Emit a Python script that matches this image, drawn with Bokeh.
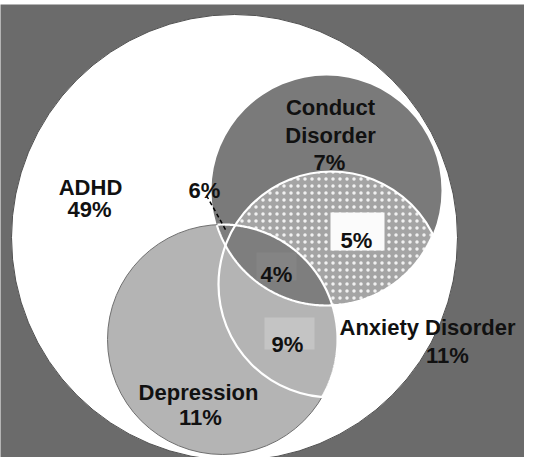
import numpy as np
from bokeh.plotting import figure
from bokeh.models import Range1d, ColumnDataSource
from bokeh.embed import file_html
from bokeh.resources import INLINE
from bokeh.core.properties import value

# ---- data: the four sets (centre x, centre y, radius in picture pixels) ----
set_names = ["ADHD", "Conduct Disorder", "Depression", "Anxiety Disorder"]
set_cx = [242, 334, 230, 339]
set_cy = [245, 198, 347, 292]
set_r = [223, 115, 115, 113]

# ---- labels ----
label_text = ["ADHD", "49%", "Conduct", "Disorder", "7%", "6%", "5%", "4%", "9%",
              "Anxiety Disorder", "11%", "Depression", "11%"]
label_x = [98, 97, 338, 338, 337, 212, 364, 284, 295, 347, 455, 206, 208]
label_y = [195, 217, 115, 143, 170, 198, 248, 282, 352, 335, 363, 400, 425]
label_size = ["22px", "22px", "22px", "22px", "22px", "22px", "22px", "22px", "22px",
              "22px", "22px", "22px", "22px"]
label_align = ["center"] * 9 + ["left"] + ["center"] * 3

# label boxes behind the 5%, 4% and 9% values
box_x = [365, 284, 297]
box_y = [239, 274, 341]
box_w = [54, 40, 50]
box_h = [38, 28, 32]
box_color = ["#fbfbfb", "#848484", "#c4c4c4"]

BG = "#6b6b6b"
C_CONDUCT = "#7a7a7a"
C_DEP = "#b4b4b4"
C_DOT = "#a4a4a4"
C_CORE = "#7e7e7e"


def circle_pts(i, n=720):
    t = np.linspace(0, 2 * np.pi, n, endpoint=False)
    return set_cx[i] + set_r[i] * np.cos(t), set_cy[i] + set_r[i] * np.sin(t)


def inside(i, x, y):
    return (x - set_cx[i]) ** 2 + (y - set_cy[i]) ** 2 <= set_r[i] ** 2


def lens(i, j):
    x1, y1 = circle_pts(i)
    x2, y2 = circle_pts(j)
    m1 = inside(j, x1, y1)
    m2 = inside(i, x2, y2)
    xs = np.concatenate([x1[m1], x2[m2]])
    ys = np.concatenate([y1[m1], y2[m2]])
    mx, my = xs.mean(), ys.mean()
    order = np.argsort(np.arctan2(ys - my, xs - mx))
    return list(xs[order]), list(ys[order])


def arc_runs(i, mask_fn):
    x, y = circle_pts(i)
    m = mask_fn(x, y)
    n = len(x)
    runs_x, runs_y = [], []
    if m.all():
        return [list(np.append(x, x[0]))], [list(np.append(y, y[0]))]
    start = int(np.argmin(m))  # a False index
    cur_x, cur_y = [], []
    for k in range(1, n + 1):
        idx = (start + k) % n
        if m[idx]:
            cur_x.append(x[idx]); cur_y.append(y[idx])
        elif cur_x:
            runs_x.append(cur_x); runs_y.append(cur_y)
            cur_x, cur_y = [], []
    if cur_x:
        runs_x.append(cur_x); runs_y.append(cur_y)
    return runs_x, runs_y


p = figure(width=524, height=457, output_backend="svg", toolbar_location=None,
           x_range=Range1d(8, 532), y_range=Range1d(465, 12),
           min_border_left=0, min_border_right=0, min_border_bottom=0, min_border_top=4)
p.axis.visible = False
p.grid.visible = False
p.outline_line_color = None
p.background_fill_color = BG
p.border_fill_color = "white"

# ADHD (white)
p.circle(x=[set_cx[0]], y=[set_cy[0]], radius=set_r[0], fill_color="white", line_color="#505050", line_width=1)

# Conduct Disorder
p.circle(x=[set_cx[1]], y=[set_cy[1]], radius=set_r[1], fill_color=C_CONDUCT, line_color=None)

# Conduct ∩ Anxiety (dotted)
lx, ly = lens(1, 3)
p.patch(lx, ly, fill_color=C_DOT, line_color=None, hatch_pattern="dot", hatch_color="white",
        hatch_scale=7, hatch_weight=1, hatch_alpha=0.85)

# Depression
p.circle(x=[set_cx[2]], y=[set_cy[2]], radius=set_r[2], fill_color=C_DEP, line_color="#707070", line_width=1)

# Conduct ∩ Depression (dark)
lx, ly = lens(1, 2)
p.patch(lx, ly, fill_color=C_CORE, line_color=None)

# white outlines inside the coloured areas
rx, ry = arc_runs(2, lambda x, y: inside(1, x, y) | inside(3, x, y))
p.multi_line(rx, ry, line_color="white", line_width=2.2)
rx, ry = arc_runs(1, lambda x, y: inside(2, x, y) | inside(3, x, y))
p.multi_line(rx, ry, line_color="white", line_width=2.2)
p.circle(x=[set_cx[3]], y=[set_cy[3]], radius=set_r[3], fill_color=None, line_color="white", line_width=2.2)

# value boxes
p.rect(x=box_x, y=box_y, width=box_w, height=box_h, fill_color=box_color, line_color=None)

# leader line from the 6% label to the small Conduct ∩ Depression sliver outside Anxiety
sx, sy = lens(1, 2)
sx = np.array(sx); sy = np.array(sy)
m = ~inside(3, sx, sy)
tx, ty = sx[m].mean(), sy[m].mean()
p.line([label_x[5] + 2, tx + 3], [label_y[5] + 5, ty], line_color="black", line_width=1.5, line_dash="4 3")

src = ColumnDataSource(dict(x=label_x, y=label_y, text=label_text, size=label_size, align=label_align))
p.text(x="x", y="y", text="text", source=src, text_font=value("Liberation Sans"), text_font_style="bold",
       text_font_size="size", text_align="align", text_baseline="alphabetic", text_color="#111111")

open("out.html", "w").write(file_html(p, INLINE))
